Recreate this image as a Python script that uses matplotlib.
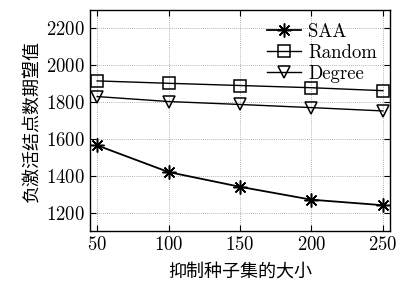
import numpy as np
import matplotlib.pyplot as plt

# Data
seed_sizes = [50, 100, 150, 200, 250]
saa = [1565, 1420, 1340, 1270, 1240]
random_sel = [1915, 1902, 1890, 1878, 1862]
degree = [1830, 1803, 1787, 1770, 1752]

plt.rcParams['font.family'] = ['cmr10', 'Noto Sans CJK SC', 'DejaVu Sans']
plt.rcParams['axes.formatter.use_mathtext'] = True
plt.rcParams['axes.unicode_minus'] = False

fig = plt.figure(figsize=(3.97, 2.89), dpi=100)
ax = fig.add_axes([90 / 397, 1 - 231 / 289, 300 / 397, 221 / 289])

ax.plot(seed_sizes, saa, color='black', lw=1.3, marker=(8, 2, 0), ms=10,
        mew=1.1, label='SAA')
ax.plot(seed_sizes, random_sel, color='black', lw=1.0, marker='s', ms=8,
        mfc='none', mew=1.1, label='Random')
ax.plot(seed_sizes, degree, color='black', lw=1.0, marker='v', ms=8,
        mfc='none', mew=1.1, label='Degree')

ax.set_xlim(45, 255)
ax.set_ylim(1100, 2300)
ax.set_xticks(seed_sizes)
ax.set_yticks([1200, 1400, 1600, 1800, 2000, 2200])
ax.tick_params(direction='in', top=True, right=True, labelsize=13.5, length=4)
for lab in ax.get_xticklabels() + ax.get_yticklabels():
    lab.set_fontfamily('cmr10')
ax.grid(True, color='#999999', linestyle=(0, (1, 1.5)), linewidth=0.6)
for s in ax.spines.values():
    s.set_linewidth(1.0)

ax.set_xlabel('抑制种子集的大小', fontsize=13, family=['Noto Sans CJK SC'],
              fontweight='light', labelpad=6)
ax.set_ylabel('负激活结点数期望值', fontsize=13, family=['Noto Sans CJK SC'],
              fontweight='light', labelpad=4)

leg = ax.legend(loc='upper right', frameon=False, fontsize=13.5, handlelength=1.8,
                borderaxespad=0.3, labelspacing=0.15, handletextpad=0.4)
for t in leg.get_texts():
    t.set_fontfamily('cmr10')

fig.savefig('out.png', dpi=100)
